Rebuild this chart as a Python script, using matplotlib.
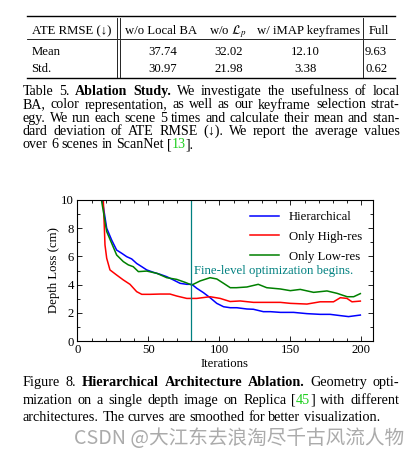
import matplotlib
matplotlib.use('Agg')
import matplotlib.pyplot as plt
from matplotlib.ticker import MultipleLocator

# ---------------- data ----------------
table_cols = ['w/o Local BA', r'w/o $\mathcal{L}_p$', 'w/ iMAP keyframes', 'Full']
row_labels = ['Mean', 'Std.']
mean_vals = [37.74, 32.02, 12.10, 9.63]
std_vals = [30.97, 21.98, 3.38, 0.62]

hier_x = [15, 17.6, 20.7, 24.2, 27.7, 31.3, 34.8, 38.3, 41.8, 45.4, 48.9, 53.6, 58.3, 63, 67.7, 72.4,
          77.1, 80.6, 84.1, 88.8, 93.5, 98.2, 103, 107.7, 112.3, 119.4, 124, 131, 136, 143, 152.3,
          161.7, 171, 178, 185.2, 191, 199.3]
hier_y = [14, 10.0, 8.0, 7.16, 6.45, 6.22, 5.98, 5.82, 5.5, 5.27, 5.04, 4.87, 4.73, 4.56, 4.33, 4.09,
          4.02, 4.02, 3.74, 3.43, 3.07, 2.67, 2.43, 2.36, 2.36, 2.27, 2.25, 2.08, 2.08, 2.03, 2.03,
          1.94, 1.89, 1.89, 1.80, 1.73, 1.84]

high_x = [16.5, 18.3, 19.5, 20.7, 23, 27.7, 32.4, 37.1, 41.8, 45.4, 51.2, 58.3, 65.3, 70, 77.1, 84.1,
          93.5, 100.6, 107.6, 114.7, 124, 133.4, 143, 150, 161.7, 171, 180.4, 185.2, 189.9, 193.4, 199.3]
high_y = [16, 10.0, 6.81, 5.87, 5.04, 4.68, 4.33, 4.02, 3.5, 3.31, 3.31, 3.33, 3.33, 3.19, 3.02, 3.02,
          3.14, 3.02, 2.80, 2.84, 2.74, 2.74, 2.74, 2.67, 2.62, 2.78, 2.78, 3.07, 3.02, 2.78, 2.83]

low_x = [15, 17, 20.7, 24.2, 27.7, 32.4, 35.9, 39.4, 43, 48.9, 56, 63, 70, 75.9, 80.6, 86.5, 93.5,
         98.2, 103, 107.7, 112, 119.4, 127.4, 133.4, 143, 150, 157, 166.4, 175.8, 182.9, 190, 194.6, 199.3]
low_y = [13, 10.0, 7.76, 6.93, 6.1, 5.63, 5.4, 5.27, 4.92, 4.96, 4.8, 4.49, 4.37, 4.16, 3.97, 4.26, 4.49,
         4.4, 4.09, 3.78, 3.78, 3.83, 4.02, 3.78, 3.69, 3.57, 3.66, 3.45, 3.55, 3.38, 3.14, 3.14, 3.36]

series_labels = ['Hierarchical', 'Only High-res', 'Only Low-res']
x_ticks = [0, 50, 100, 150, 200]
y_ticks = [0, 2, 4, 6, 8, 10]

# ---------------- setup ----------------
plt.rcParams['font.family'] = ['Liberation Serif', 'DejaVu Serif']
plt.rcParams['mathtext.fontset'] = 'stix'

W, H = 420, 459
fig = plt.figure(figsize=(W / 100, H / 100), dpi=100)
renderer = fig.canvas.get_renderer()


def fx(x):
    return x / W


def fy(y):
    return 1 - y / H


CITE = '#1fd01f'
FS = 9.2
K = 'black'


def fit_size(s, target, ref=10.0):
    t = fig.text(0, 0, s, fontsize=ref)
    w = t.get_window_extent(renderer).width
    t.remove()
    return ref * target / w


def to_words(segs):
    words = [[]]
    for s, b, c in segs:
        parts = s.split(' ')
        for i, p in enumerate(parts):
            if i > 0:
                words.append([])
            if p:
                words[-1].append((p, b, c))
    return [w for w in words if w]


def text_line(y, segs, size, x0=22.7, x1=399.5, justify=True):
    words = to_words(segs)
    items, widths = [], []
    for w in words:
        arts, ww = [], 0
        for s, b, c in w:
            t = fig.text(0, 0, s, fontsize=size, fontweight='bold' if b else 'normal',
                         color=c, va='baseline', ha='left')
            wd = t.get_window_extent(renderer).width
            arts.append((t, wd))
            ww += wd
        items.append(arts)
        widths.append(ww)
    if justify and len(words) > 1:
        gap = (x1 - x0 - sum(widths)) / (len(words) - 1)
    else:
        gap = 0.25 * size * 100 / 72
    x = x0
    for arts, ww in zip(items, widths):
        xx = x
        for t, wd in arts:
            t.set_position((fx(xx), fy(y)))
            xx += wd
        x += ww + gap


# ---------------- table ----------------
def hline(y, lw):
    fig.add_artist(plt.Line2D([fx(26.7), fx(395)], [fy(y), fy(y)], color='black', lw=lw))


def vline(x, y0, y1):
    fig.add_artist(plt.Line2D([fx(x), fx(x)], [fy(y0), fy(y1)], color='black', lw=0.6))


hline(16.3, 1.0)
hline(38.8, 0.6)
hline(77.5, 1.0)
for xb in (116.8, 119.8):
    vline(xb, 17.5, 38.2)
    vline(xb, 39.5, 76.5)
vline(363, 17.5, 38.2)
vline(363, 39.5, 76.5)

hdr_y = 34
fig.text(fx(31.5), fy(hdr_y), 'ATE RMSE (↓)', fontsize=FS, va='baseline', ha='left')
col_centers = [161.5, 227.5, 308.5]
for c, name in zip(col_centers, table_cols[:3]):
    fig.text(fx(c), fy(hdr_y), name, fontsize=FS, va='baseline', ha='center')
fig.text(fx(368.5), fy(hdr_y), table_cols[3], fontsize=FS, va='baseline', ha='left')

for ry, lab, vals in [(55, row_labels[0], mean_vals), (71.5, row_labels[1], std_vals)]:
    fig.text(fx(31.5), fy(ry), lab, fontsize=FS, va='baseline', ha='left')
    for c, v in zip([162.5, 228.5, 305.5], vals[:3]):
        fig.text(fx(c), fy(ry), f'{v:.2f}', fontsize=FS, va='baseline', ha='center')
    fig.text(fx(365), fy(ry), f'{vals[3]:.2f}', fontsize=FS, va='baseline', ha='left')

# ---------------- table caption ----------------
cap1 = fit_size('over 6 scenes in ScanNet [13].', 193.3 - 22.7)
base = 4.5
text_line(90.5 + base, [('Table 5.  ', False, K), ('Ablation Study.', True, K),
                        (' We investigate the usefulness of local', False, K)], cap1)
text_line(104 + base, [('BA, color representation, as well as our keyframe selection strat-', False, K)], cap1)
text_line(117.3 + base, [('egy. We run each scene 5 times and calculate their mean and stan-', False, K)], cap1)
text_line(130.7 + base, [('dard deviation of ATE RMSE (↓). We report the average values', False, K)], cap1)
text_line(144 + base, [('over 6 scenes in ScanNet [', False, K), ('13', False, CITE), ('].', False, K)],
          cap1, justify=False)

# ---------------- chart ----------------
ax = fig.add_axes([fx(77.3), fy(341), (372.7 - 77.3) / W, (341 - 200) / H])
ax.plot(hier_x, hier_y, color='#0000ff', lw=1.1, label=series_labels[0])
ax.plot(high_x, high_y, color='#ff0000', lw=1.1, label=series_labels[1])
ax.plot(low_x, low_y, color='#008000', lw=1.1, label=series_labels[2])
ax.axvline(80, color='#008080', lw=0.9)
ax.text(82, 4.95, 'Fine-level optimization begins.', color='#008080', fontsize=FS, va='center')
ax.set_xlim(0, 208)
ax.set_ylim(0, 10)
ax.set_xticks(x_ticks)
ax.set_yticks(y_ticks)
ax.xaxis.set_minor_locator(MultipleLocator(10))
ax.yaxis.set_minor_locator(MultipleLocator(1))
ax.tick_params(which='both', direction='in', top=True, right=True, labelsize=FS, pad=2.5, width=0.6)
ax.tick_params(which='major', length=3.5)
ax.tick_params(which='minor', length=2)
for sp in ax.spines.values():
    sp.set_linewidth(0.8)
ax.set_xlabel('Iterations', fontsize=FS, labelpad=1)
ax.set_ylabel('Depth Loss (cm)', fontsize=FS, labelpad=1)
ax.legend(loc='upper right', frameon=False, fontsize=FS, handlelength=2.2, labelspacing=0.6,
          handletextpad=0.8, bbox_to_anchor=(0.99, 0.975), borderaxespad=0.2)

# ---------------- figure caption ----------------
cap2 = fit_size('architectures. The curves are smoothed for better visualization.', 381 - 22.7)
text_line(381.7 + base, [('Figure 8.  ', False, K), ('Hierarchical Architecture Ablation.', True, K),
                         (' Geometry opti-', False, K)], cap2)
text_line(399.3 + base, [('mization on a single depth image on Replica [', False, K), ('45', False, CITE),
                         ('] with different', False, K)], cap2)
text_line(416.7 + base, [('architectures. The curves are smoothed for better visualization.', False, K)],
          cap2, justify=False)

# ---------------- watermark ----------------
wm = fig.text(fx(74), fy(438), 'CSDN @大江东去浪淘尽千古风流人物', family=['Noto Sans CJK SC', 'DejaVu Sans'],
              fontsize=13.5, color='#ababab', va='center', ha='left')
wd = wm.get_window_extent(renderer).width
wm.set_fontsize(13.5 * 331 / wd)

fig.savefig('out.png', dpi=100)
